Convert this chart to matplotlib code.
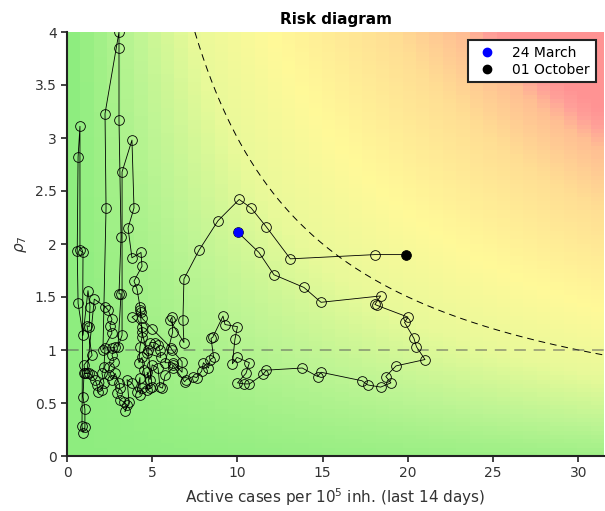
import numpy as np
import matplotlib
matplotlib.use("Agg")
import matplotlib.pyplot as plt
from matplotlib.colors import LinearSegmentedColormap

# --- Data ---
# active cases per 1e5 inh. (last 14 days), daily from 24 March to 01 October
cases = [
    10.03, 11.26, 12.14, 13.90, 14.90, 18.40, 18.06, 18.20, 20.00, 19.80,
    20.35, 20.50, 21.00, 19.30, 18.70, 19.00, 18.40, 17.65, 17.30, 14.90,
    14.70, 13.80, 11.70, 11.50, 10.70, 10.40, 10.00, 10.50, 10.70, 9.97,
    9.70, 9.85, 10.00, 9.27, 9.15, 8.55, 8.45, 8.60, 8.40, 8.30,
    8.00, 7.90, 7.60, 7.40, 7.00, 6.90, 6.20, 6.20, 5.75, 5.60,
    5.45, 5.34, 5.00, 4.87, 4.70, 4.87, 4.40, 4.28, 4.28, 4.10,
    3.81, 3.52, 3.64, 3.40, 3.52, 3.34, 3.10, 2.93, 3.10, 3.05,
    2.82, 2.64, 2.46, 2.46, 2.76, 2.64, 2.82, 2.64, 2.23, 2.17,
    2.05, 2.17, 2.05, 1.82, 1.76, 1.64, 1.47, 1.30, 1.05, 1.00,
    1.47, 1.17, 1.30, 1.35, 1.23, 0.94, 0.65, 0.60, 0.65, 0.76,
    0.76, 0.94, 0.88, 0.94, 1.05, 1.05, 0.94, 1.00, 1.17, 1.60,
    2.23, 2.40, 2.64, 2.52, 2.64, 2.11, 2.29, 2.23, 3.05, 3.05,
    3.05, 3.17, 3.05, 3.17, 2.99, 3.23, 3.23, 3.81, 3.93, 3.58,
    3.81, 4.34, 4.40, 3.93, 4.10, 4.28, 4.34, 3.81, 4.40, 4.40,
    4.28, 4.22, 4.40, 4.50, 4.70, 5.00, 4.75, 4.87, 5.16, 5.34,
    5.45, 5.50, 4.70, 4.40, 4.28, 4.40, 5.00, 6.10, 6.16, 6.75,
    6.75, 6.20, 5.75, 6.20, 6.16, 6.05, 6.86, 6.80, 6.86, 7.74,
    8.86, 10.10, 10.80, 11.70, 13.10, 18.06, 19.90,
]
rho7 = [
    2.11, 1.92, 1.71, 1.59, 1.45, 1.51, 1.43, 1.42, 1.31, 1.26,
    1.11, 1.03, 0.91, 0.85, 0.75, 0.69, 0.65, 0.67, 0.71, 0.79,
    0.75, 0.83, 0.81, 0.77, 0.68, 0.68, 0.69, 0.78, 0.88, 0.93,
    0.87, 1.10, 1.22, 1.24, 1.32, 1.12, 1.11, 0.93, 0.91, 0.83,
    0.88, 0.80, 0.74, 0.75, 0.72, 0.70, 0.86, 0.83, 0.76, 0.64,
    0.65, 0.83, 0.86, 0.72, 0.79, 0.64, 0.64, 0.58, 0.74, 0.60,
    0.69, 0.72, 0.51, 0.42, 0.48, 0.51, 0.53, 0.59, 0.64, 0.69,
    0.78, 0.72, 0.76, 0.84, 0.89, 0.95, 1.03, 1.02, 1.02, 0.84,
    0.78, 0.69, 0.62, 0.60, 0.67, 0.72, 0.76, 0.78, 0.78, 0.86,
    0.95, 1.23, 1.22, 1.41, 1.56, 1.14, 1.44, 1.93, 2.82, 3.11,
    1.94, 1.92, 0.28, 0.22, 0.27, 0.44, 0.56, 0.78, 0.78, 1.48,
    1.41, 1.38, 1.29, 1.23, 1.16, 1.00, 2.34, 3.23, 4.00, 3.85,
    3.17, 2.07, 1.53, 1.53, 1.03, 1.14, 2.68, 2.98, 2.34, 2.15,
    1.87, 1.92, 1.79, 1.65, 1.58, 1.41, 1.36, 1.31, 1.22, 1.12,
    1.03, 0.88, 0.93, 0.81, 0.62, 0.65, 1.00, 1.07, 1.07, 1.05,
    1.00, 0.93, 0.97, 1.17, 1.38, 1.30, 1.20, 1.02, 1.00, 0.89,
    0.79, 0.88, 0.88, 1.17, 1.31, 1.28, 1.07, 1.28, 1.67, 1.94,
    2.22, 2.42, 2.34, 2.16, 1.86, 1.90, 1.90,
]
first_label = "24 March"
last_label = "01 October"
risk_level = 30      # dashed iso-risk curve: cases * rho7
xmax = 31.5
ymax = 4

# --- Figure ---
fig = plt.figure(figsize=(6.05, 5.11), dpi=100)
ax = fig.add_axes([67 / 605, 55 / 511, 537 / 605, 424 / 511])

# background risk map
cmap = LinearSegmentedColormap.from_list("risk", [
    (0.000, (0.56, 0.93, 0.50)),
    (0.136, (0.74, 0.96, 0.58)),
    (0.270, (0.91, 0.98, 0.60)),
    (0.450, (1.00, 0.98, 0.60)),
    (0.730, (1.00, 0.87, 0.58)),
    (0.890, (1.00, 0.75, 0.58)),
    (0.950, (1.00, 0.63, 0.60)),
    (1.000, (1.00, 0.58, 0.58)),
])
gx = np.linspace(0, xmax, 40)
gy = np.linspace(0, ymax, 100)
GX, GY = np.meshgrid(gx, gy)
risk = GX * GY + 0.2 * GX
ax.imshow(risk, origin="lower", extent=[0, xmax, 0, ymax], aspect="auto",
          cmap=cmap, vmin=0, vmax=110, interpolation="nearest", zorder=0)

xc = np.linspace(risk_level / ymax, xmax, 300)
ax.plot(xc, risk_level / xc, color="black", lw=0.7, linestyle=(0, (7, 5)), zorder=1)
ax.axhline(1, color="#5a5a5a", alpha=0.5, lw=1.4, linestyle=(0, (6, 4)), zorder=1)

ax.plot(cases, rho7, color="black", lw=0.6, marker="o", markersize=7,
        markerfacecolor="none", markeredgewidth=0.6, zorder=2)
ax.plot(cases[0], rho7[0], "o", color="blue", markersize=6, label=first_label, zorder=3)
ax.plot(cases[-1], rho7[-1], "o", color="black", markersize=6, label=last_label, zorder=3)

ax.set_xlim(0, xmax)
ax.set_ylim(0, ymax)
ax.set_xticks([0, 5, 10, 15, 20, 25, 30])
ax.set_yticks([0, 0.5, 1, 1.5, 2, 2.5, 3, 3.5, 4])
ax.set_yticklabels(["0", "0.5", "1", "1.5", "2", "2.5", "3", "3.5", "4"])
ax.tick_params(direction="out", length=4, width=1.2, colors="#222222",
               labelcolor="#333333", labelsize=10)
for side in ["top", "right"]:
    ax.spines[side].set_visible(False)
for side in ["left", "bottom"]:
    ax.spines[side].set_color("#222222")
    ax.spines[side].set_linewidth(1.5)

ax.set_xlabel("Active cases per $10^5$ inh. (last 14 days)", fontsize=11, color="#333333")
ax.set_ylabel(r"$\rho_7$", fontsize=11, color="#333333")
ax.set_title("Risk diagram", fontsize=11, fontweight="bold", pad=6)

leg = ax.legend(loc="upper right", fontsize=10, frameon=True, fancybox=False,
                borderaxespad=0.6, handletextpad=0.8, labelspacing=0.2)
leg.get_frame().set_edgecolor("#222222")
leg.get_frame().set_linewidth(1.5)
leg.get_frame().set_alpha(1)

fig.savefig("out.png", dpi=100)
